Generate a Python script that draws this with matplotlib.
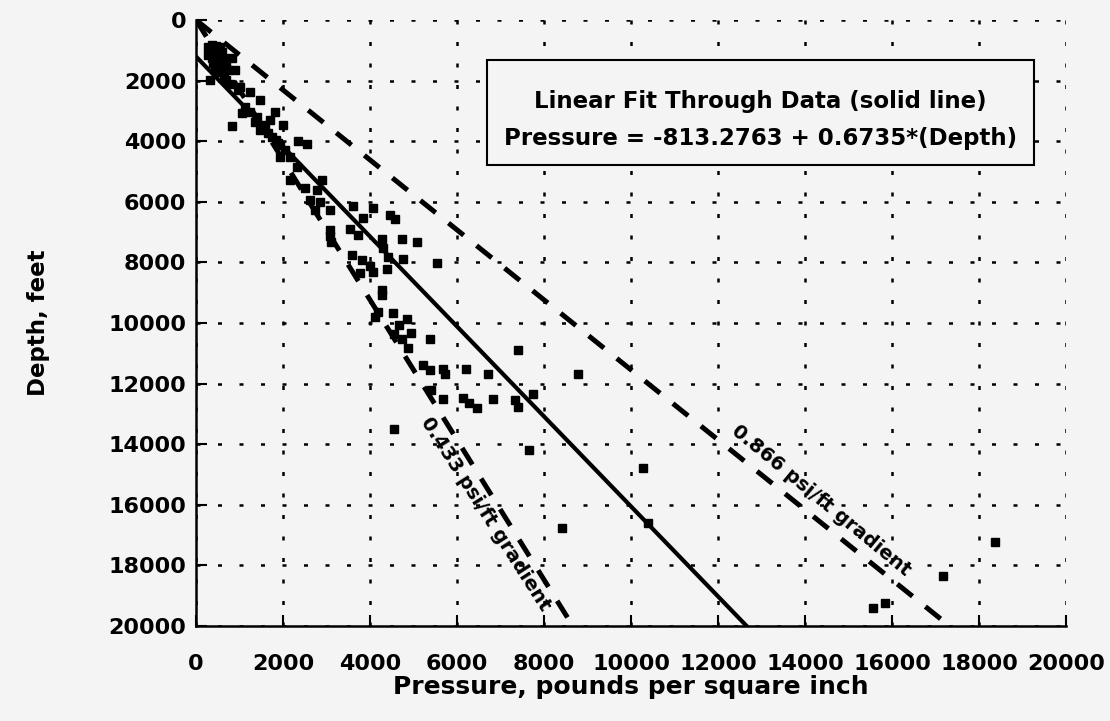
import numpy as np
import matplotlib
matplotlib.use("Agg")
import matplotlib.pyplot as plt
from matplotlib.patches import Rectangle

plt.rcParams['font.family'] = ['DejaVu Sans']
plt.rcParams['font.weight'] = 'bold'

# ---- data (pressure psi, depth ft) ----
pressure = [276, 368, 460, 552, 322, 414, 506, 598, 276, 368, 460, 552, 644, 391, 506, 598, 690,
            437, 552, 644, 736, 322, 690, 782, 828, 897, 966, 1012, 1127, 1242, 1472, 1058, 828,
            1817, 1403, 1702, 2001, 1472, 1242, 1357, 1587, 1656, 1748, 1840, 1932, 2346, 2553,
            1886, 1932, 2162, 2047, 2323, 2162, 2507, 2898, 2783, 2622, 2852, 2737, 3082, 3611,
            4071, 3841, 4462, 4577, 3542, 3726, 3082, 3082, 3105, 4278, 4738, 5083, 4301, 4416,
            4761, 5543, 3588, 3818, 4002, 3772, 4071, 4393, 4278, 4278, 4186, 4117, 4531, 4853,
            4669, 4554, 4945, 4738, 4876, 5382, 7406, 5221, 5382, 5681, 5727, 6210, 6716, 8786,
            5405, 5681, 6141, 6279, 6463, 6831, 7337, 7406, 7751, 4554, 7659, 10281, 8418, 10396,
            18377, 17181, 15847, 15571]
depth = [891, 825, 858, 891, 990, 1056, 990, 1056, 1155, 1254, 1188, 1320, 1254, 1419, 1485, 1518, 1452,
         1650, 1716, 1815, 1650, 1980, 1980, 2112, 1254, 1650, 2310, 2211, 2871, 2376, 2640, 3069, 3498,
         3036, 3201, 3300, 3465, 3630, 3036, 3366, 3465, 3729, 3861, 3960, 4125, 3993, 4092,
         4059, 4521, 4521, 4290, 4851, 5280, 5544, 5280, 5610, 5940, 6006, 6270, 6270, 6138,
         6204, 6534, 6435, 6567, 6897, 7095, 6930, 7128, 7326, 7227, 7227, 7326, 7524, 7821,
         7887, 8019, 7755, 7920, 8118, 8349, 8316, 8217, 8910, 9075, 9636, 9801, 9669, 9867,
         10065, 10362, 10329, 10527, 10824, 10527, 10890, 11385, 11550, 11517, 11682, 11517, 11682, 11682,
         12210, 12507, 12474, 12639, 12804, 12507, 12540, 12771, 12342, 13497, 14190, 14784, 16764, 16599,
         17226, 18348, 19239, 19404]

fit_intercept = -813.2763
fit_slope = 0.6735
gradients = [0.433, 0.866]
gradient_labels = ['0.433 psi/ft gradient', '0.866 psi/ft gradient']
ticks = list(range(0, 20001, 2000))

bg = '#f4f4f4'
fig = plt.figure(figsize=(11.1, 7.21), dpi=100, facecolor=bg)
ax = fig.add_axes([0.1766, 0.1318, 0.7838, 0.8405])
ax.set_facecolor(bg)

ax.set_xlim(0, 20000)
ax.set_ylim(20000, 0)
ax.set_xticks(ticks)
ax.set_yticks(ticks)
ax.set_xticklabels([str(t) for t in ticks], fontsize=16, fontweight='bold')
ax.set_yticklabels([str(t) for t in ticks], fontsize=16, fontweight='bold')
ax.tick_params(direction='in', length=8, width=1.5)
ax.tick_params(axis='x', pad=20)
ax.tick_params(axis='y', pad=7)
ax.grid(True, linestyle=(0, (1.6, 7.0)), color='black', linewidth=1.8)
ax.set_axisbelow(True)
for s in ['top', 'right']:
    ax.spines[s].set_visible(False)
for s in ['left', 'bottom']:
    ax.spines[s].set_linewidth(1.8)

# scatter
ax.plot(pressure, depth, 's', color='black', markersize=5.6, zorder=3)

# linear fit
d_fit = np.array([-fit_intercept / fit_slope, 20000])
ax.plot(fit_intercept + fit_slope * d_fit, d_fit, '-', color='black', linewidth=3, zorder=4)

# gradient lines
d_g = np.array([0, 20000])
for g in gradients:
    ax.plot(g * d_g, d_g, color='black', linewidth=3.6, dashes=(3.9, 3.3), zorder=4)

ax.text(6650, 16300, gradient_labels[0], rotation=-57.5, rotation_mode='anchor',
        ha='center', va='center', fontsize=14, fontweight='bold', zorder=6)
ax.text(14375, 15870, gradient_labels[1], rotation=-39.5, rotation_mode='anchor',
        ha='center', va='center', fontsize=14, fontweight='bold', zorder=6)

# annotation box
ax.add_patch(Rectangle((0.3345, 0.7607), 0.6285, 0.173, transform=ax.transAxes,
                       facecolor=bg, edgecolor='black', linewidth=1.5, zorder=5))
ax.text(0.6487, 0.835, 'Linear Fit Through Data (solid line)\nPressure = -813.2763 + 0.6735*(Depth)',
        transform=ax.transAxes, ha='center', va='center', fontsize=16.5, fontweight='bold',
        linespacing=1.8, zorder=6)

ax.set_xlabel('Pressure, pounds per square inch', fontsize=18, fontweight='bold', labelpad=1)
ax.set_ylabel('Depth, feet', fontsize=16.5, fontweight='bold', labelpad=42)

fig.savefig('out.png', dpi=100, facecolor=bg)
